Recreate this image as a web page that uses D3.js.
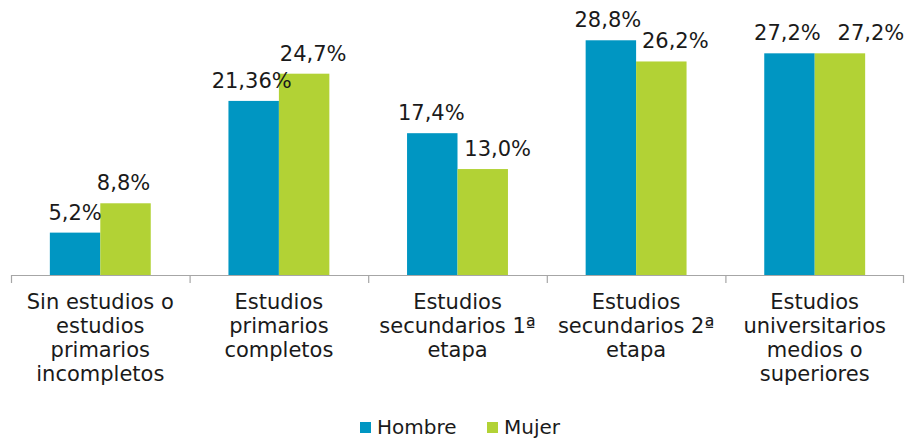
<!DOCTYPE html>
<html>
<head>
<meta charset="utf-8">
<script src="https://cdn.jsdelivr.net/npm/d3@7"></script>
<style>
  body { margin: 0; background: #fff; }
  text { font-family: "DejaVu Sans", Verdana, sans-serif; fill: #1a1a1a; }
</style>
</head>
<body>
<div id="chart"></div>
<script>
// categories (one array per label line)
const categories = [
  ["Sin estudios o", "estudios", "primarios", "incompletos"],
  ["Estudios", "primarios", "completos"],
  ["Estudios", "secundarios 1ª", "etapa"],
  ["Estudios", "secundarios 2ª", "etapa"],
  ["Estudios", "universitarios", "medios o", "superiores"]
];
const series = ["Hombre", "Mujer"];
const hombre = [5.2, 21.36, 17.4, 28.8, 27.2];
const mujer = [8.8, 24.7, 13.0, 26.2, 27.2];
const hombreLabels = ["5,2%", "21,36%", "17,4%", "28,8%", "27,2%"];
const mujerLabels = ["8,8%", "24,7%", "13,0%", "26,2%", "27,2%"];
const colors = ["#0096c2", "#b2d235"];

// hand-placed label nudges, as in the original
const hombreDx = [0, -2, -1, -3, -2];
const mujerDx = [-2, 9, 15, 14, 31];

const width = 911, height = 441;
const margin = { left: 11, right: 7, top: 30, bottom: 166 };
const baseY = height - margin.bottom; // 275

const svg = d3.select("#chart").append("svg")
  .attr("width", width)
  .attr("height", height);

const x = d3.scaleBand()
  .domain(d3.range(categories.length))
  .range([margin.left, width - margin.right])
  .padding(0);

const xs = d3.scaleBand()
  .domain(series)
  .range([0, x.bandwidth()])
  .paddingInner(0)
  .paddingOuter(0.77);

const y = d3.scaleLinear()
  .domain([0, 30])
  .range([baseY, baseY - 244.5]);

const data = [];
categories.forEach((c, i) => {
  data.push({ i, s: "Hombre", v: hombre[i], label: hombreLabels[i], dx: hombreDx[i], color: colors[0] });
  data.push({ i, s: "Mujer", v: mujer[i], label: mujerLabels[i], dx: mujerDx[i], color: colors[1] });
});

// bars
svg.append("g").selectAll("rect")
  .data(data)
  .join("rect")
  .attr("x", d => x(d.i) + xs(d.s))
  .attr("y", d => y(d.v))
  .attr("width", xs.bandwidth())
  .attr("height", d => baseY - y(d.v))
  .attr("fill", d => d.color);

// axis line + ticks between categories
const axis = svg.append("g").attr("stroke", "#a6a6a6").attr("stroke-width", 1.2);
axis.append("line")
  .attr("x1", margin.left).attr("x2", width - margin.right)
  .attr("y1", baseY + 0.5).attr("y2", baseY + 0.5);
axis.selectAll("line.tick")
  .data(d3.range(categories.length + 1))
  .join("line")
  .attr("class", "tick")
  .attr("x1", i => i < categories.length ? x(i) + 0.5 : x(i - 1) + x.bandwidth() - 0.5)
  .attr("x2", i => i < categories.length ? x(i) + 0.5 : x(i - 1) + x.bandwidth() - 0.5)
  .attr("y1", baseY)
  .attr("y2", baseY + 8);

// value labels
svg.append("g").selectAll("text")
  .data(data)
  .join("text")
  .attr("x", d => x(d.i) + xs(d.s) + xs.bandwidth() / 2 + d.dx)
  .attr("y", d => y(d.v) - 13)
  .attr("text-anchor", "middle")
  .style("font-size", "21px")
  .text(d => d.label);

// category labels
const catG = svg.append("g").selectAll("text")
  .data(categories)
  .join("text")
  .attr("x", (d, i) => x(i) + x.bandwidth() / 2)
  .attr("y", 309)
  .attr("text-anchor", "middle")
  .style("font-size", "21px");
catG.selectAll("tspan")
  .data(d => d)
  .join("tspan")
  .attr("x", function () { return this.parentNode.getAttribute("x"); })
  .attr("dy", (d, j) => j === 0 ? 0 : 24)
  .text(d => d);

// legend
const legend = svg.append("g");
const legendX = [360, 487];
series.forEach((s, i) => {
  legend.append("rect")
    .attr("x", legendX[i]).attr("y", 422)
    .attr("width", 11).attr("height", 11)
    .attr("fill", colors[i]);
  legend.append("text")
    .attr("x", legendX[i] + 17).attr("y", 434)
    .style("font-size", "20px")
    .text(s);
});
</script>
</body>
</html>
